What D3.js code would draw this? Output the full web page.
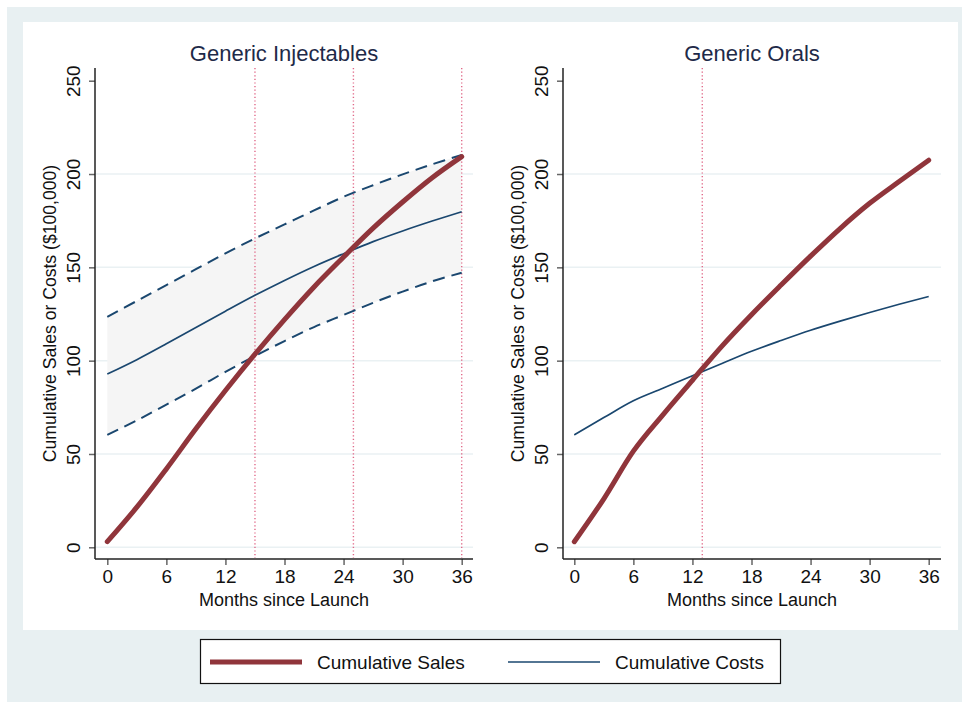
<!DOCTYPE html>
<html>
<head>
<meta charset="utf-8">
<script src="https://cdn.jsdelivr.net/npm/d3@7"></script>
<style>
  html, body { margin: 0; padding: 0; background: #ffffff; }
  svg { display: block; font-family: "Liberation Sans", Arial, sans-serif; }
</style>
</head>
<body>
<svg id="chart" width="962" height="702"></svg>
<script>
// Months since launch at which each series is tabulated
const months = [0, 3, 6, 9, 12, 15, 18, 21, 24, 27, 30, 33, 36];

// Generic injectables ($100,000)
const injSales     = [3.0, 21.5, 42, 63.5, 84, 103.5, 122, 139.5, 155.5, 171, 185, 198, 209.3];
const injCosts     = [92.8, 100.5, 109, 117.8, 126.5, 135, 143, 150.5, 157.3, 163.8, 169.5, 174.8, 179.8];
const injCostsHigh = [123.5, 132, 140.5, 149, 157.5, 165.5, 173, 180.5, 187.8, 194, 199.8, 205.2, 210.2];
const injCostsLow  = [60.2, 68, 76.5, 85, 94, 102.5, 110.5, 118, 124.5, 131, 137, 142.5, 147.1];
const injBreakEven = [15, 25, 36];

// Generic orals ($100,000)
const oralSales    = [3.0, 26, 51.5, 71, 89.5, 107.8, 124.6, 140.5, 156, 170.8, 184.3, 196, 207.4];
const oralCosts    = [60.2, 69.5, 78.5, 85.2, 91.9, 98.5, 105, 110.8, 116.3, 121.2, 125.8, 130.2, 134.4];
const oralBreakEven = [13];

const xTicks = [0, 6, 12, 18, 24, 30, 36];
const yTicks = [0, 50, 100, 150, 200, 250];
const gridTicks = [0, 50, 100, 150, 200];

const panelTitles = ["Generic Injectables", "Generic Orals"];
const xTitle = "Months since Launch";
const yTitle = "Cumulative Sales or Costs ($100,000)";
const legendLabels = ["Cumulative Sales", "Cumulative Costs"];

const salesColor = "#90353b";
const costColor = "#1a476f";

const svg = d3.select("#chart");

// outer frame and inner white plotting panel
svg.append("rect").attr("x", 7).attr("y", 7).attr("width", 955).attr("height", 695).attr("fill", "#e8f0f2");
svg.append("rect").attr("x", 23).attr("y", 22).attr("width", 935).attr("height", 608).attr("fill", "#ffffff");

function zip(xs, ys) { return xs.map((m, i) => ({ m: m, v: ys[i] })); }

function drawPanel(opts) {
  const x = d3.scaleLinear().domain([0, 36]).range([opts.x0, opts.x0 + 354.4]);
  const y = d3.scaleLinear().domain([0, 250]).range([547.3, 80.7]);
  const g = svg.append("g");
  const plotLeft = opts.axisX, plotRight = opts.axisX + 378, plotTop = 68, plotBottom = 559;

  // horizontal grid lines
  g.selectAll("line.grid").data(gridTicks).enter().append("line")
    .attr("x1", plotLeft).attr("x2", plotRight)
    .attr("y1", d => y(d)).attr("y2", d => y(d))
    .attr("stroke", "#eaf1f3").attr("stroke-width", 1.5);

  const line = d3.line().x(d => x(d.m)).y(d => y(d.v)).curve(opts.curve);

  // confidence band around costs
  if (opts.costLow) {
    const area = d3.area().x(d => x(d.m)).y0(d => y(d.lo)).y1(d => y(d.hi)).curve(opts.curve);
    const band = months.map((m, i) => ({ m: m, lo: opts.costLow[i], hi: opts.costHigh[i] }));
    g.append("path").datum(band).attr("d", area).attr("fill", "#f5f5f5");
  }

  // break-even markers
  g.selectAll("line.be").data(opts.breakEven).enter().append("line")
    .attr("x1", d => x(d)).attr("x2", d => x(d))
    .attr("y1", plotTop).attr("y2", plotBottom - 1)
    .attr("stroke", "#e06888").attr("stroke-width", 1.4)
    .attr("stroke-dasharray", "1.2,2.4");

  if (opts.costLow) {
    [opts.costHigh, opts.costLow].forEach(s => {
      g.append("path").datum(zip(months, s)).attr("d", line)
        .attr("fill", "none").attr("stroke", costColor).attr("stroke-width", 2)
        .attr("stroke-dasharray", "12,7");
    });
  }

  g.append("path").datum(zip(months, opts.costs)).attr("d", line)
    .attr("fill", "none").attr("stroke", costColor).attr("stroke-width", 1.7);

  g.append("path").datum(zip(months, opts.sales)).attr("d", line)
    .attr("fill", "none").attr("stroke", salesColor).attr("stroke-width", 5)
    .attr("stroke-linecap", "round");

  // y axis
  const yAxis = d3.axisLeft(y).tickValues(yTicks).tickSize(6).tickPadding(7);
  const ya = g.append("g").attr("transform", `translate(${plotLeft},0)`).call(yAxis);
  ya.select(".domain").remove();
  ya.append("line").attr("x1", 0).attr("x2", 0).attr("y1", plotTop).attr("y2", plotBottom)
    .attr("stroke", "#222").attr("stroke-width", 1.5);
  ya.selectAll(".tick line").attr("stroke", "#666").attr("stroke-width", 1.5);
  ya.selectAll(".tick text")
    .attr("font-size", 19).attr("fill", "#111")
    .attr("x", null).attr("dy", null)
    .attr("text-anchor", "middle")
    .attr("transform", "translate(-22,0) rotate(-90)")
    .attr("y", 0).attr("dy", "0.35em");

  // x axis
  const xAxis = d3.axisBottom(x).tickValues(xTicks).tickSize(6).tickPadding(5);
  const xa = g.append("g").attr("transform", `translate(0,${plotBottom})`).call(xAxis);
  xa.select(".domain").remove();
  xa.append("line").attr("x1", plotLeft).attr("x2", plotRight).attr("y1", 0).attr("y2", 0)
    .attr("stroke", "#222").attr("stroke-width", 1.5);
  xa.selectAll(".tick line").attr("stroke", "#666").attr("stroke-width", 1.5);
  xa.selectAll(".tick text").attr("font-size", 19).attr("fill", "#111");

  // titles
  const cx = (plotLeft + plotRight) / 2;
  g.append("text").attr("x", cx).attr("y", 61).attr("text-anchor", "middle")
    .attr("font-size", 22).attr("fill", "#1e2a48").text(opts.title);
  g.append("text").attr("x", cx).attr("y", 606).attr("text-anchor", "middle")
    .attr("font-size", 18).attr("fill", "#111").text(xTitle);
  g.append("text").attr("transform", `translate(${plotLeft - 39},${(plotTop + plotBottom) / 2}) rotate(-90)`)
    .attr("text-anchor", "middle").attr("font-size", 17.6).attr("fill", "#111").text(yTitle);
}

drawPanel({ x0: 107.3, axisX: 95, title: panelTitles[0], sales: injSales, costs: injCosts,
            costHigh: injCostsHigh, costLow: injCostsLow, breakEven: injBreakEven,
            curve: d3.curveCatmullRom.alpha(0.5) });
drawPanel({ x0: 574.3, axisX: 563, title: panelTitles[1], sales: oralSales, costs: oralCosts,
            breakEven: oralBreakEven, curve: d3.curveMonotoneX });

// legend
const lg = svg.append("g");
lg.append("rect").attr("x", 200.5).attr("y", 639.5).attr("width", 580).attr("height", 44)
  .attr("fill", "#ffffff").attr("stroke", "#111").attr("stroke-width", 1.2);
const legendItems = [
  { label: legendLabels[0], color: salesColor, width: 5, x: 210 },
  { label: legendLabels[1], color: costColor, width: 1.7, x: 508 }
];
legendItems.forEach(it => {
  lg.append("line").attr("x1", it.x).attr("x2", it.x + 92).attr("y1", 662).attr("y2", 662)
    .attr("stroke", it.color).attr("stroke-width", it.width);
  lg.append("text").attr("x", it.x + 107).attr("y", 669).attr("font-size", 19)
    .attr("fill", "#111").text(it.label);
});
</script>
</body>
</html>
